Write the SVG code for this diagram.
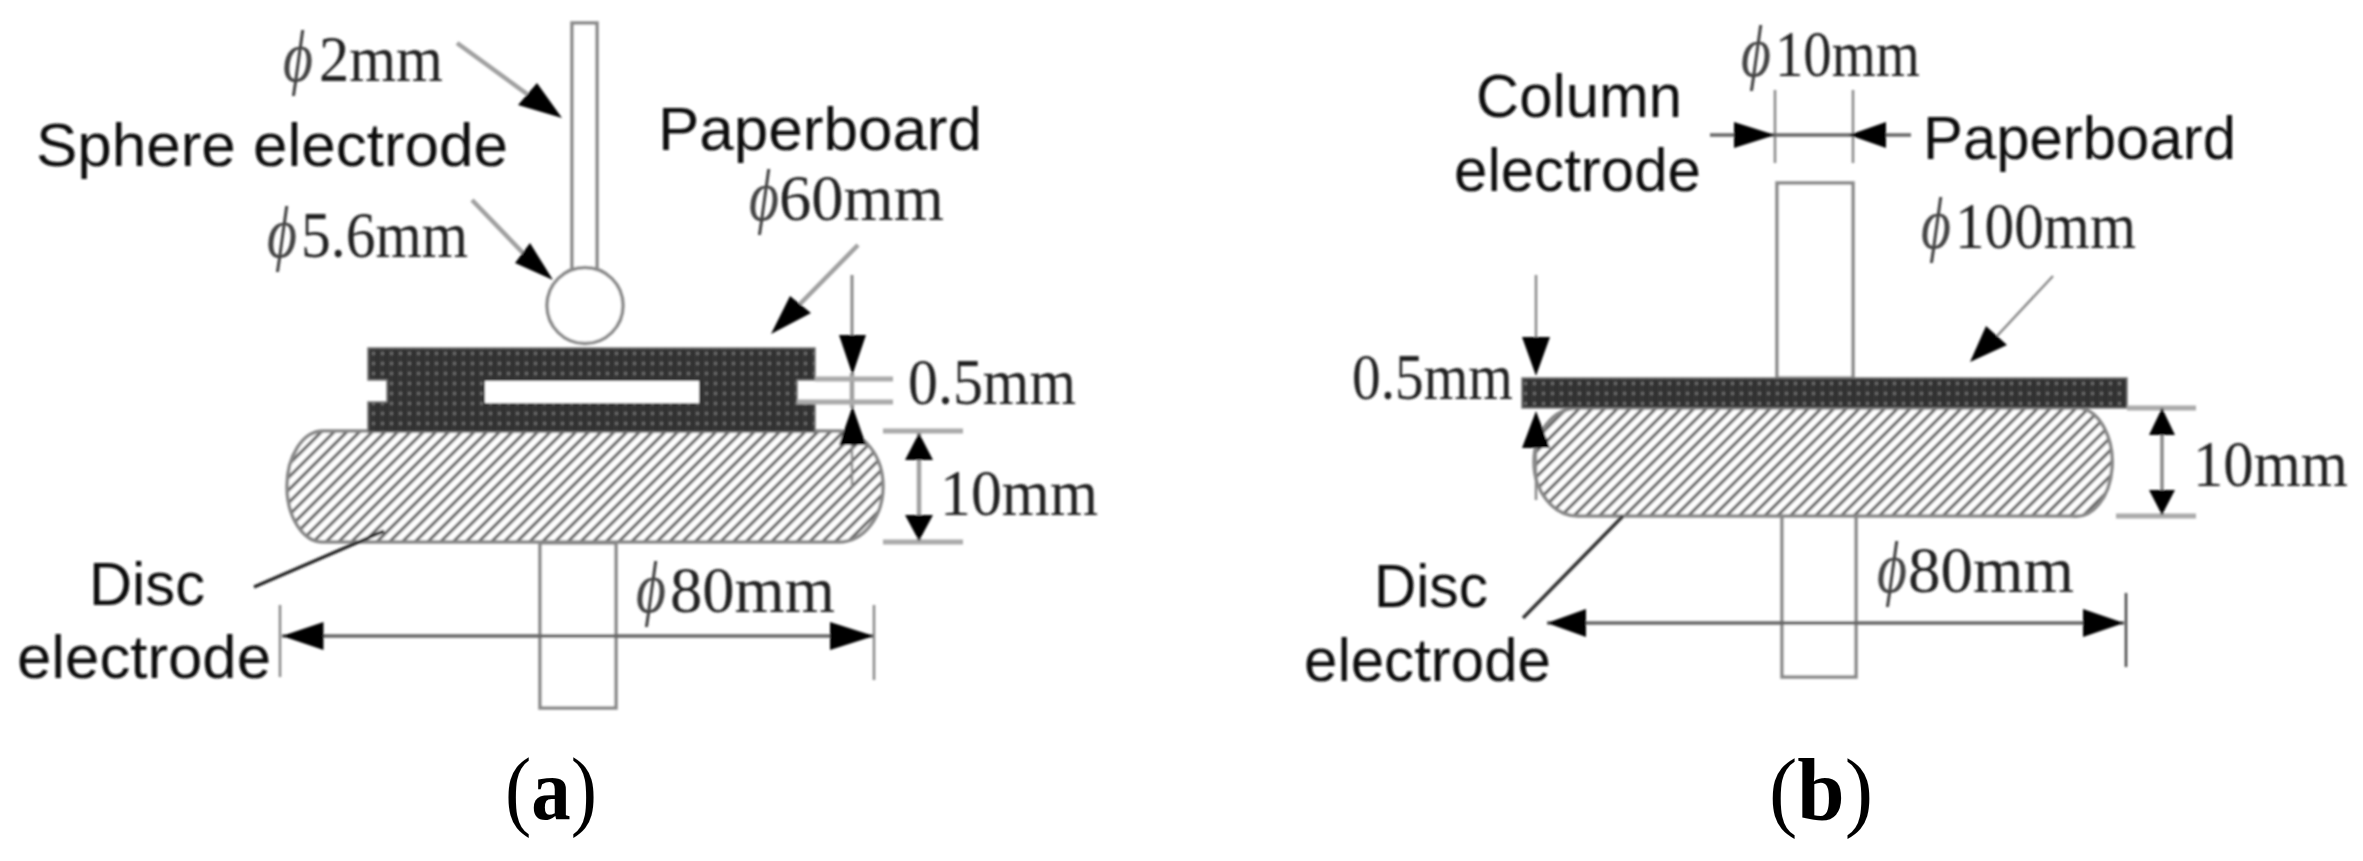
<svg xmlns="http://www.w3.org/2000/svg" width="2363" height="861" viewBox="0 0 2363 861">
<style>
.sans{font-family:"Liberation Sans",Arial,sans-serif;font-size:62px;fill:#111}
.ser{font-family:"Liberation Serif","Times New Roman",serif;font-size:65px;fill:#222}
.phi{font-style:italic;font-size:72px;fill:#444}
.cap{font-family:"Liberation Serif","Times New Roman",serif;font-size:88px;fill:#000}
.cap .b{font-weight:bold}
.part{fill:#fff;stroke:#8a8a8a;stroke-width:3.5}
.board{fill:url(#weave);stroke:#777;stroke-width:1.5}
.disc{fill:url(#hatch);stroke:#888;stroke-width:3.5}
.ln{fill:none;stroke:#a0a0a0;stroke-width:4.5}
.dk{fill:none;stroke:#666;stroke-width:3.5}
.th{fill:none;stroke:#888;stroke-width:2.5}
.lt{fill:none;stroke:#aaa;stroke-width:5}
.ah{fill:#000;stroke:none}
</style>
<defs>
<pattern id="hatch" width="9" height="9" patternUnits="userSpaceOnUse" patternTransform="rotate(45)">
<rect width="9" height="9" fill="#fff"/><rect width="3.2" height="9" fill="#666"/>
</pattern>
<pattern id="weave" width="9" height="10" patternUnits="userSpaceOnUse">
<rect width="9" height="10" fill="#363636"/><rect x="3" y="2" width="3" height="3" fill="#6a6a6a"/><rect x="7.5" width="1.5" height="10" fill="#2a2a2a"/>
</pattern>
<filter id="soft" x="-2%" y="-2%" width="104%" height="104%"><feGaussianBlur stdDeviation="1"/></filter>
</defs>
<rect width="2363" height="861" fill="#fff"/>
<g filter="url(#soft)">
<g id="panel-a">
<g id="a-lower-rod"><rect class="part" x="540" y="543" width="76" height="165"/></g>
<g id="a-disc"><path class="disc" d="M323,431H839A44,55.5 0 0 1 839,542H323A36,55.5 0 0 1 323,431Z"/></g>
<g id="a-rod"><rect class="part" x="572" y="23" width="25" height="248"/></g>
<g id="a-sphere"><circle class="part" cx="585" cy="305.5" r="38"/></g>
<g id="a-paperboard"><path class="board" d="M368,348H815V380H797V402H815V432H368V402H387V380H368Z"/><rect x="485" y="381" width="214" height="22" fill="#fff"/></g>
</g>
<g id="panel-b">
<g id="b-upper-rod"><rect class="part" x="1777" y="183" width="76" height="195"/></g>
<g id="b-lower-rod"><rect class="part" x="1782" y="516" width="74" height="161"/></g>
<g id="b-disc"><path class="disc" d="M1578,408H2080A36,54 0 0 1 2072,516H1578A44,54 0 0 1 1578,408Z"/></g>
<g id="b-paperboard"><rect class="board" x="1522" y="378" width="605" height="30"/></g>
</g>
<g id="connectors">
<path class="ln" d="M457,43L527,94"/>
<path class="ln" d="M472,200L523,253"/>
<path class="ln" d="M858,245L800,304"/>
<polygon class="ah" points="562,118 537,83 518,105"/>
<polygon class="ah" points="553,280 530,243 515,263"/>
<polygon class="ah" points="771,334 790,296 811,313"/>
<path class="ln" style="stroke:#888;stroke-width:3" d="M852,275V335"/>
<path class="ln" d="M852,373V408"/>
<path class="th" d="M852,445V487"/>
<polygon class="ah" points="839,335 866,335 852.500,375"/>
<polygon class="ah" points="852.500,406 839,445 866,445"/>
<path class="lt" d="M815,379H893M797,402H893M883,431H963M883,542H963"/>
<path class="ln" d="M919,433V541"/>
<polygon class="ah" points="919,433 905,460 933,460"/>
<polygon class="ah" points="919,541 905,515 933,515"/>
<path class="dk" d="M282,636H873"/>
<polygon class="ah" points="282,636 323.500,622 323.500,650"/>
<polygon class="ah" points="874,636 830,622 830,650"/>
<path class="th" d="M280,605V677M874,605V680"/>
<path class="dk" style="stroke:#222" d="M384,531L254,587"/>
<path class="th" d="M1536,275V337"/>
<path class="th" d="M1536,448V500"/>
<polygon class="ah" points="1522,337 1550,337 1536,376"/>
<polygon class="ah" points="1536,411 1522,448 1550,448"/>
<path class="lt" d="M2127,408H2196M2116,516H2196"/>
<path class="th" style="stroke-width:3.500" d="M2162,408V515"/>
<polygon class="ah" points="2162,408 2149,435 2175,435"/>
<polygon class="ah" points="2162,515 2149,490 2175,490"/>
<path class="dk" d="M1547,623H2124"/>
<polygon class="ah" points="1547,623 1586,609 1586,637"/>
<polygon class="ah" points="2124,623 2083,609 2083,637"/>
<path class="th" style="stroke:#444" d="M2126,593V667"/>
<path class="dk" style="stroke:#333" d="M1623,516L1523,618"/>
<path class="th" d="M1775,90V163M1853,90V163"/>
<path class="dk" d="M1710,135H1911"/>
<polygon class="ah" points="1775,135 1734,122 1734,148"/>
<polygon class="ah" points="1849,135 1886,122 1886,148"/>
<path class="th" d="M2053,276L1997,336"/>
<polygon class="ah" points="1970,362 1986,326 2007,345"/>
</g>
<g id="labels-a">
<text class="ser" x="283" y="81"><tspan class="phi" textLength="30" lengthAdjust="spacingAndGlyphs">ϕ</tspan><tspan x="319" textLength="124" lengthAdjust="spacingAndGlyphs">2mm</tspan></text>
<text class="sans" x="36" y="166" textLength="472" lengthAdjust="spacingAndGlyphs">Sphere electrode</text>
<text class="sans" x="658" y="150" textLength="324" lengthAdjust="spacingAndGlyphs">Paperboard</text>
<text class="ser" x="749" y="220"><tspan class="phi" textLength="30" lengthAdjust="spacingAndGlyphs">ϕ</tspan><tspan x="779" textLength="165" lengthAdjust="spacingAndGlyphs">60mm</tspan></text>
<text class="ser" x="267" y="257"><tspan class="phi" textLength="30" lengthAdjust="spacingAndGlyphs">ϕ</tspan><tspan x="301" textLength="167" lengthAdjust="spacingAndGlyphs">5.6mm</tspan></text>
<text class="ser" x="908" y="404" textLength="168" lengthAdjust="spacingAndGlyphs">0.5mm</text>
<text class="ser" x="940" y="515" textLength="158" lengthAdjust="spacingAndGlyphs">10mm</text>
<text class="ser" x="636" y="612"><tspan class="phi" textLength="30" lengthAdjust="spacingAndGlyphs">ϕ</tspan><tspan x="670" textLength="165" lengthAdjust="spacingAndGlyphs">80mm</tspan></text>
<text class="sans" x="89" y="605" textLength="116" lengthAdjust="spacingAndGlyphs">Disc</text>
<text class="sans" x="17" y="678" textLength="254" lengthAdjust="spacingAndGlyphs">electrode</text>
</g>
<g id="labels-b">
<text class="ser" x="1741" y="76"><tspan class="phi" textLength="30" lengthAdjust="spacingAndGlyphs">ϕ</tspan><tspan x="1775" textLength="145" lengthAdjust="spacingAndGlyphs">10mm</tspan></text>
<text class="sans" x="1476" y="117" textLength="206" lengthAdjust="spacingAndGlyphs">Column</text>
<text class="sans" x="1454" y="191" textLength="247" lengthAdjust="spacingAndGlyphs">electrode</text>
<text class="sans" x="1923" y="159" textLength="313" lengthAdjust="spacingAndGlyphs">Paperboard</text>
<text class="ser" x="1921" y="248"><tspan class="phi" textLength="30" lengthAdjust="spacingAndGlyphs">ϕ</tspan><tspan x="1955" textLength="181" lengthAdjust="spacingAndGlyphs">100mm</tspan></text>
<text class="ser" x="1352" y="399" textLength="161" lengthAdjust="spacingAndGlyphs">0.5mm</text>
<text class="ser" x="2193" y="486" textLength="155" lengthAdjust="spacingAndGlyphs">10mm</text>
<text class="ser" x="1877" y="592"><tspan class="phi" textLength="30" lengthAdjust="spacingAndGlyphs">ϕ</tspan><tspan x="1908" textLength="166" lengthAdjust="spacingAndGlyphs">80mm</tspan></text>
<text class="sans" x="1374" y="607" textLength="114" lengthAdjust="spacingAndGlyphs">Disc</text>
<text class="sans" x="1304" y="681" textLength="247" lengthAdjust="spacingAndGlyphs">electrode</text>
</g>
</g>
<g id="captions">
<text class="cap" x="505" y="819" textLength="92" lengthAdjust="spacingAndGlyphs">(<tspan class="b">a</tspan>)</text>
<text class="cap" x="1769" y="820" textLength="104" lengthAdjust="spacingAndGlyphs">(<tspan class="b">b</tspan>)</text>
</g>
</svg>
